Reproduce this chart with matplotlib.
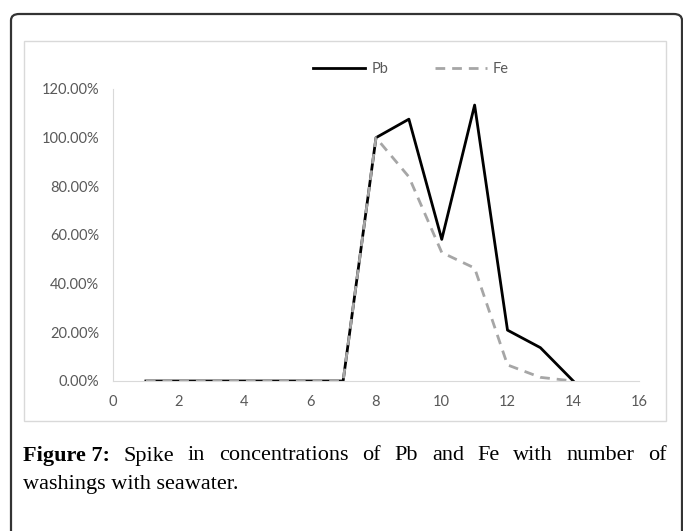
import matplotlib
matplotlib.use('Agg')
import matplotlib.pyplot as plt
from matplotlib.patches import FancyBboxPatch, Rectangle
from matplotlib.ticker import PercentFormatter

# washings with seawater
x = [1, 2, 3, 4, 5, 6, 7, 8, 9, 10, 11, 12, 13, 14]
pb = [0, 0, 0, 0, 0, 0, 0, 1.00, 1.076, 0.582, 1.134, 0.209, 0.137, 0]
fe = [0, 0, 0, 0, 0, 0, 0, 1.00, 0.839, 0.528, 0.464, 0.066, 0.015, 0]
xticks = [0, 2, 4, 6, 8, 10, 12, 14, 16]
yticks = [0, 0.2, 0.4, 0.6, 0.8, 1.0, 1.2]

W, H = 683, 531
fig = plt.figure(figsize=(W / 100, H / 100), dpi=100)

def fx(px):
    return px / W

def fy(py):
    return 1 - py / H

# outer frame (rounded, cut at bottom)
frame = FancyBboxPatch((fx(11), fy(560)), fx(671), (560 - 14) / H,
                       boxstyle="round,pad=0,rounding_size=0.012",
                       transform=fig.transFigure, fill=False,
                       edgecolor='#333333', lw=1.6)
fig.patches.append(frame)

# chart area box
box = Rectangle((fx(24), fy(421)), fx(666 - 24), (421 - 41) / H,
                transform=fig.transFigure, fill=False,
                edgecolor='#d9d9d9', lw=1)
fig.patches.append(box)

ax = fig.add_axes([fx(113), fy(381), fx(639 - 113), (381 - 89) / H])
ax.plot(x, pb, color='black', lw=2, label='Pb')
ax.plot(x, fe, color='#a6a6a6', lw=2, ls=(0, (3.5, 2.5)), label='Fe')

ax.set_xlim(0, 16)
ax.set_ylim(0, 1.2)
ax.set_xticks(xticks)
ax.set_yticks(yticks)
ax.yaxis.set_major_formatter(PercentFormatter(1.0, decimals=2))
for s in ['top', 'right']:
    ax.spines[s].set_visible(False)
ax.spines['left'].set_color('#d9d9d9')
ax.spines['bottom'].set_color('#d9d9d9')
ax.tick_params(length=0, labelsize=10.5, labelcolor='#595959')
ax.tick_params(axis='y', pad=10)
ax.tick_params(axis='x', pad=10)
for lab in ax.get_xticklabels() + ax.get_yticklabels():
    lab.set_fontfamily('Lato')
ax.patch.set_alpha(0)

leg = fig.legend(loc='center', bbox_to_anchor=(fx(411), fy(69)), ncol=2,
                 frameon=False, handlelength=3.6, handletextpad=0.4,
                 columnspacing=3.2, prop={'family': 'Lato', 'size': 10.5})
for t in leg.get_texts():
    t.set_color('#595959')

# caption, justified on first line
line1 = ["Figure 7:", "Spike", "in", "concentrations", "of", "Pb", "and", "Fe",
         "with", "number", "of"]
cap_size = 16
left, right = 23, 667
texts = []
for i, w in enumerate(line1):
    t = fig.text(0, fy(456), w, fontsize=cap_size, family='Liberation Serif',
                 fontweight='bold' if i == 0 else 'normal', va='center')
    texts.append(t)
renderer = fig.canvas.get_renderer()
widths = [t.get_window_extent(renderer).width for t in texts]
gap = (right - left - sum(widths)) / (len(texts) - 1)
pos = left
for t, w in zip(texts, widths):
    t.set_x(fx(pos))
    pos += w + gap

fig.text(fx(left), fy(484), "washings with seawater.", fontsize=cap_size,
         family='Liberation Serif', va='center')

fig.savefig('out.png', dpi=100)
